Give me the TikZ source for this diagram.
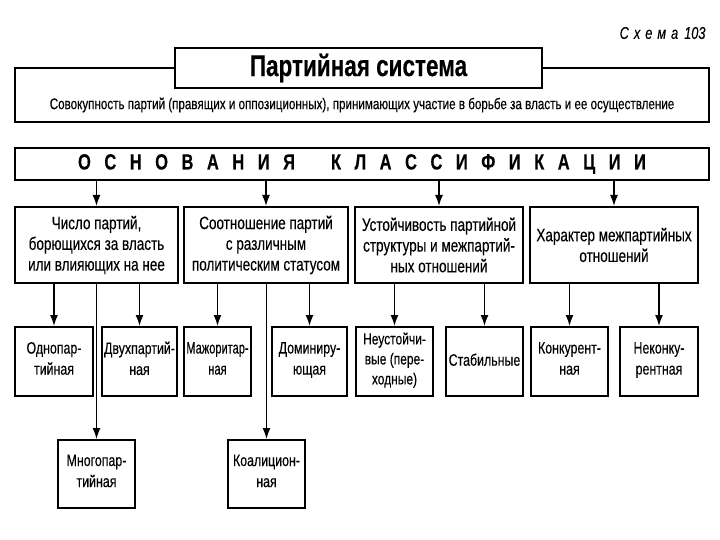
\documentclass[tikz,border=0pt]{standalone}
\usepackage{fontspec}
\setmainfont[FakeStretch=0.75, FakeBold=0.25]{Liberation Sans}
\usepackage{tikz}
\usetikzlibrary{arrows.meta, positioning}

\begin{document}
\begin{tikzpicture}[
    x=1pt, y=-1pt,
    head/.style={rectangle, draw=black, fill=white, line width=2.4pt, inner sep=0pt, align=center},
    crit/.style={rectangle, draw=black, line width=2pt, align=center, inner sep=2pt, font=\fontsize{18}{20.7}\selectfont, minimum height=76pt},
    kind/.style={rectangle, draw=black, line width=2pt, align=center, inner sep=1pt, font=\fontsize{16.5}{21}\selectfont, minimum height=69pt,
        execute at begin node=\strut, execute at end node=\strut},
    arr/.style={-{Latex[length=11pt, width=8pt]}, line width=1.5pt}
]
    \useasboundingbox (0,0) rectangle (720,540);

    % Verkh: zagolovok i opredelenie
    \node[font=\itshape\fontsize{17}{19}\selectfont, anchor=east] (scheme) at (709,33) {\spaceskip=5pt С х е м а\hspace{6pt}103};
    \node[head, minimum width=694pt, minimum height=54pt] (system) at (362,95) {};
    \node[head, minimum width=367pt, minimum height=40pt, font=\fontsize{30}{32}\selectfont\bfseries] (title) at (358.5,68) {Партийная система};
    \node[font=\fontsize{15.5}{17}\selectfont] (desc) at (362,105) {Совокупность партий (правящих и оппозиционных), принимающих участие в борьбе за власть и ее осуществление};

    % Osnovaniya klassifikacii
    \node[head, minimum width=694pt, minimum height=32pt, font=\fontsize{22}{24}\selectfont\bfseries] (basis) at (362,164) {\spaceskip=13.5pt О С Н О В А Н И Я\hspace{36pt}К Л А С С И Ф И К А Ц И И};

    % Uroven 2 (y ot 207 do 283)
    \node[crit, minimum width=163pt] (c1) at (96.5,245) {Число партий,\\борющихся за власть\\или влияющих на нее};
    \node[crit, minimum width=164pt] (c2) at (266,245) {Соотношение партий\\с различным\\политическим статусом};
    \node[crit, minimum width=168pt] (c3) at (439,245) {Устойчивость партийной\\структуры и межпартий-\\ных отношений};
    \node[crit, minimum width=168pt] (c4) at (614,245) {Характер межпартийных\\отношений};

    % Uroven 3 (y ot 327 do 396)
    \node[kind, minimum width=78pt] (k1) at (54,361.5) {Однопар-\\тийная};
    \node[kind, minimum width=75pt] (k2) at (139.5,361.5) {Двухпартий-\\ная};
    \node[kind, minimum width=67pt, font=\fontsize{16.5}{21}\selectfont\addfontfeatures{FakeStretch=0.67}] (k3) at (217.5,361.5) {Мажоритар-\\ная};
    \node[kind, minimum width=75pt] (k4) at (309.5,361.5) {Доминиру-\\ющая};
    \node[kind, minimum width=77pt, font=\fontsize{16}{20}\selectfont] (k5) at (394.5,361.5) {Неустойчи-\\вые (пере-\\ходные)};
    \node[kind, minimum width=77pt] (k6) at (484.5,361.5) {Стабильные};
    \node[kind, minimum width=77pt] (k7) at (569.5,361.5) {Конкурент-\\ная};
    \node[kind, minimum width=78pt] (k8) at (659,361.5) {Неконку-\\рентная};

    % Uroven 4 (y ot 440 do 508)
    \node[kind, minimum width=77pt, minimum height=68pt] (m1) at (96.5,474) {Многопар-\\тийная};
    \node[kind, minimum width=77pt, minimum height=68pt] (m2) at (266.5,474) {Коалицион-\\ная};

    % Strelki
    \foreach \c in {c1,c2,c3,c4}
        \draw[arr] (basis.south -| \c) -- (\c.north);
    \foreach \p/\k in {c1/k1, c1/k2, c1/m1, c2/k3, c2/k4, c2/m2, c3/k5, c3/k6, c4/k7, c4/k8}
        \draw[arr] (\p.south -| \k) -- (\k.north);
\end{tikzpicture}
\end{document}
